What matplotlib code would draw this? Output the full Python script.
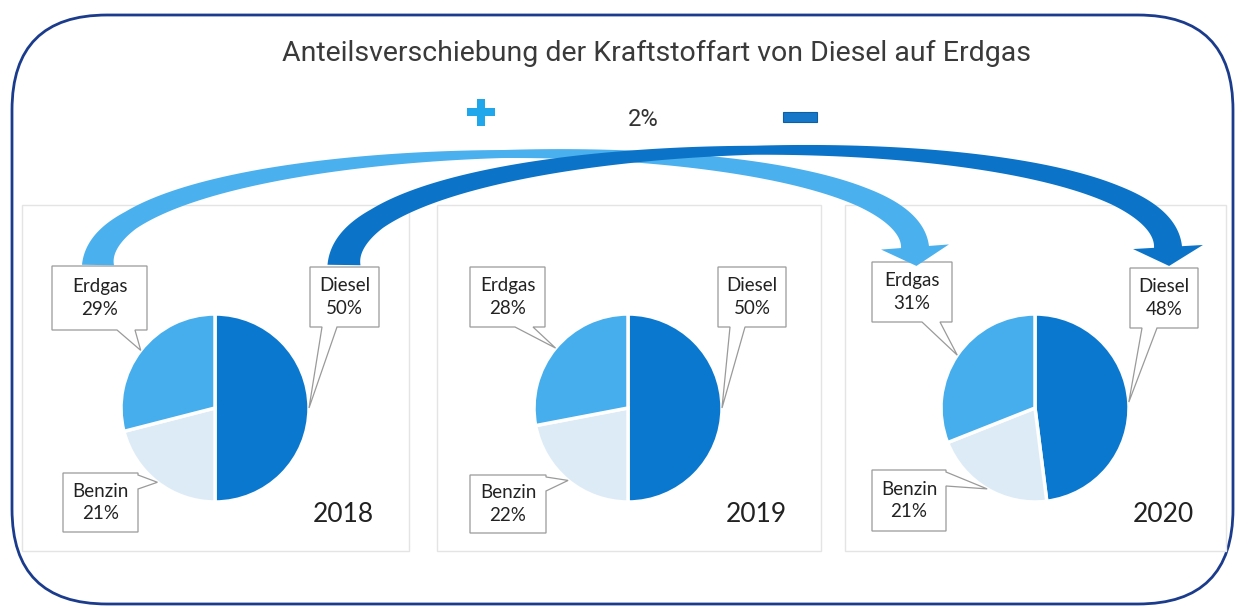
import numpy as np
import matplotlib
matplotlib.use("Agg")
import matplotlib.pyplot as plt
from matplotlib.patches import Polygon, FancyBboxPatch, Rectangle

# ---------------- data ----------------
years = ["2018", "2019", "2020"]
fuels = ["Diesel", "Benzin", "Erdgas"]
diesel = [50, 50, 48]
benzin = [21, 22, 21]
erdgas = [29, 28, 31]
shift_label = "2%"
title = "Anteilsverschiebung der Kraftstoffart von Diesel auf Erdgas"

colors = {"Diesel": "#0B78CF", "Benzin": "#DDEBF7", "Erdgas": "#46AEEC"}
W, H = 1240, 612
TITLE_FONT = ["Roboto", "DejaVu Sans"]
LABEL_FONT = ["Lato", "DejaVu Sans"]

fig = plt.figure(figsize=(W / 100, H / 100), dpi=100)
ax = fig.add_axes([0, 0, 1, 1])


def Y(y):
    return H - y


# outer rounded frame
ax.add_patch(FancyBboxPatch((12, Y(604)), 1221, 589,
                            boxstyle="round,pad=0,rounding_size=95",
                            fc="white", ec="#1B3C8C", lw=2.0, zorder=0))

# panels (x0, x1) and pie centres
panels = [(22, 409), (437, 821), (845, 1226)]
centers_x = [215, 628, 1035]
cy, R = 408, 94
for (x0, x1) in panels:
    ax.add_patch(Rectangle((x0, Y(551)), x1 - x0, 551 - 205, fc="white",
                           ec="#e4e4e4", lw=1.0, zorder=1))

# callout boxes per panel (image coords: x0, y0, x1, y1)
boxes = [
    {"Erdgas": (52, 266, 147, 330), "Diesel": (310, 267, 379, 327), "Benzin": (63, 473, 138, 532)},
    {"Erdgas": (470, 267, 545, 327), "Diesel": (718, 267, 786, 327), "Benzin": (470, 475, 546, 533)},
    {"Erdgas": (872, 262, 952, 322), "Diesel": (1130, 268, 1198, 328), "Benzin": (872, 470, 946, 531)},
]


def callout(box, side, tip, text):
    x0, y0, x1, y1 = box
    if side == "bottom_right":
        a, b = x1 - 30, x1 - 12
        pts = [(x0, y0), (x1, y0), (x1, y1), (b, y1), None, (a, y1), (x0, y1)]
    elif side == "bottom_left":
        a, b = x0 + 12, x0 + 27
        pts = [(x0, y0), (x1, y0), (x1, y1), (b, y1), None, (a, y1), (x0, y1)]
    else:  # right side, near top
        a, b = y0 + 2, y0 + 16
        pts = [(x0, y0), (x1, y0), (x1, a), None, (x1, b), (x1, y1), (x0, y1)]
    poly = []
    for p in pts:
        if p is None:
            poly.append(tip)
        else:
            poly.append((p[0], Y(p[1])))
    ax.add_patch(Polygon(poly, closed=True, fc="white", ec="#9a9a9a", lw=0.9, zorder=4))
    ax.text((x0 + x1) / 2, Y((y0 + y1) / 2), text, ha="center", va="center",
            fontsize=13.5, family=LABEL_FONT, color="#222222", linespacing=1.4, zorder=5)


for i, cx in enumerate(centers_x):
    vals = [diesel[i], benzin[i], erdgas[i]]
    wedges, _ = ax.pie(vals, colors=[colors[f] for f in fuels], startangle=90,
                       counterclock=False, center=(cx, Y(cy)), radius=R,
                       wedgeprops=dict(edgecolor="white", linewidth=2.5, zorder=3))
    for f, wdg, v in zip(fuels, wedges, vals):
        wdg.set_zorder(3)
        mid = np.deg2rad((wdg.theta1 + wdg.theta2) / 2)
        tip = (cx + R * np.cos(mid), Y(cy) + R * np.sin(mid))
        side = {"Erdgas": "bottom_right", "Diesel": "bottom_left", "Benzin": "right"}[f]
        callout(boxes[i][f], side, tip, f"{f}\n{v}%")
    ax.text(cx + 128, Y(514), years[i], ha="center", va="center", fontsize=19,
            family=LABEL_FONT, color="#222222", zorder=5)


# curved arrows
def band(P, widths, head_w, head_len, color, z):
    P = np.array(P, float)
    t = np.linspace(0, 1, 300)[:, None]
    pts = ((1 - t) ** 3) * P[0] + 3 * ((1 - t) ** 2) * t * P[1] + 3 * (1 - t) * t ** 2 * P[2] + t ** 3 * P[3]
    d = 3 * ((1 - t) ** 2) * (P[1] - P[0]) + 6 * (1 - t) * t * (P[2] - P[1]) + 3 * t ** 2 * (P[3] - P[2])
    d = d / np.linalg.norm(d, axis=1)[:, None]
    n = np.column_stack([-d[:, 1], d[:, 0]])
    w = np.interp(t[:, 0], widths[0], widths[1])[:, None]
    left = pts + n * w / 2
    right = pts - n * w / 2
    E, u, nn = pts[-1], d[-1], n[-1]
    head = [E + nn * head_w / 2, E + u * head_len, E - nn * head_w / 2]
    poly = np.vstack([left, head, right[::-1]])
    poly[:, 1] = H - poly[:, 1]
    ax.add_patch(Polygon(poly, closed=True, fc=color, ec="none", zorder=z))


band([(98, 265), (100, 125), (905, 115), (915, 247)],
     ([0, 0.12, 0.5, 0.85, 1], [32, 20, 8, 20, 28]), 68, 19, "#4BB0EE", 6)
band([(344, 265), (346, 120), (1160, 110), (1168, 247)],
     ([0, 0.12, 0.5, 0.85, 1], [33, 22, 9, 20, 28]), 70, 19, "#0B74C8", 7)

# plus / minus and shift label
ax.add_patch(Rectangle((467, Y(116)), 28, 8, fc="#1FA6EB", ec="none", zorder=8))
ax.add_patch(Rectangle((477, Y(126)), 8, 27, fc="#1FA6EB", ec="none", zorder=8))
ax.add_patch(Rectangle((783, Y(122)), 34, 10, fc="#1677C9", ec="#0f5fa5", lw=0.8, zorder=8))
ax.text(643, Y(119), shift_label, ha="center", va="center", fontsize=17,
        family=TITLE_FONT, color="#333333", zorder=8)

ax.text(657, Y(53), title, ha="center", va="center", fontsize=20.5,
        family=TITLE_FONT, color="#3a3a3a", zorder=8)

ax.set_xlim(0, W)
ax.set_ylim(0, H)
ax.set_aspect("auto")
ax.axis("off")
fig.savefig("out.png", dpi=100, facecolor="white")
